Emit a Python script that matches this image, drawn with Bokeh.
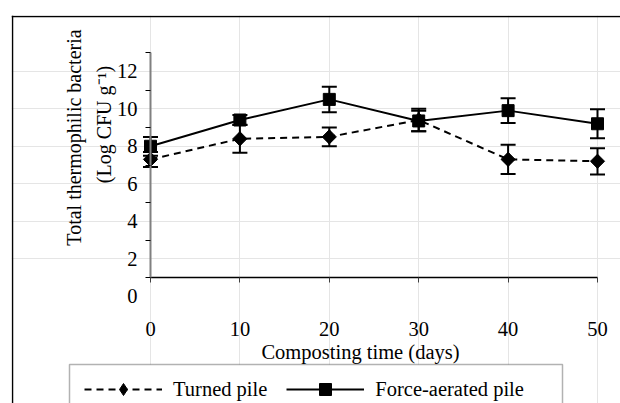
import numpy as np
from bokeh.plotting import figure
from bokeh.models import (ColumnDataSource, Whisker, TeeHead, FixedTicker, Label, Span,
                          PolyAnnotation, Legend, LegendItem, LinearAxis, Range1d)
from bokeh.core.properties import value
from bokeh.embed import file_html
from bokeh.resources import INLINE

# ---- data ----
days = [0, 10, 20, 30, 40, 50]
turned = [7.3, 8.4, 8.5, 9.4, 7.3, 7.2]
turned_err = [0.4, 0.75, 0.5, 0.6, 0.78, 0.7]
forced = [8.0, 9.4, 10.5, 9.35, 9.9, 9.2]
forced_err = [0.5, 0.27, 0.68, 0.55, 0.66, 0.77]
y_tick_marks = [1, 3, 5, 7, 9, 11, 13]
y_tick_labels = [0, 2, 4, 6, 8, 10, 12]
x_ticks = [0, 10, 20, 30, 40, 50]
y_title_1 = "Total thermophilic bacteria"
y_title_2 = "(Log CFU g\u207b\u00b9)"
x_title = "Composting time (days)"
series_names = ["Turned pile", "Force-aerated pile"]

FONT = "Liberation Serif"
FS = "20.5px"

# ---- layout: the plot frame fills the canvas; the chart area sits inside it ----
W, H = 620, 403
LEFT, TOP = 11, 15                 # frame insets (px)
AX_L, AX_R = 150.0, 597.0          # canvas px of x = 0 and x = 50
AX_T, AX_B = 52.0, 277.0           # canvas px of y = 13 and y = 1
ppx = (AX_R - AX_L) / 50.0
ppy = (AX_B - AX_T) / 12.0
x_start = (LEFT - AX_L) / ppx
x_end = 50 + (W - AX_R) / ppx
y_end = 13 + (AX_T - TOP) / ppy
y_start = 1 - (H - AX_B) / ppy


def dx(px):   # canvas x pixel -> data x (for text / frame placement)
    return (px - AX_L) / ppx


def dy(py):   # canvas y pixel -> data y (for text / frame placement)
    return 13 - (py - AX_T) / ppy


src_t = ColumnDataSource(dict(x=days, y=turned,
                              upper=[v + e for v, e in zip(turned, turned_err)],
                              lower=[v - e for v, e in zip(turned, turned_err)]))
src_f = ColumnDataSource(dict(x=days, y=forced,
                              upper=[v + e for v, e in zip(forced, forced_err)],
                              lower=[v - e for v, e in zip(forced, forced_err)]))

p = figure(width=W, height=H, output_backend="svg", toolbar_location=None,
           x_range=Range1d(x_start, x_end), y_range=Range1d(y_start, y_end),
           x_axis_location=None, y_axis_location=None,
           min_border_left=LEFT, min_border_bottom=0, min_border_top=TOP, min_border_right=0)
p.outline_line_color = None
p.background_fill_color = "white"
p.border_fill_color = "white"

# ---- real axes, pinned at the chart's origin ----
xax = LinearAxis(fixed_location=1, bounds=(0, 50), ticker=FixedTicker(ticks=x_ticks),
                 axis_line_color="black", axis_line_width=1.5,
                 major_tick_line_color="#404040", major_tick_in=5, major_tick_out=0,
                 minor_tick_line_color=None, major_label_text_font_size="1px",
                 major_label_text_color=None, major_label_standoff=0)
p.add_layout(xax, "above")
yax = LinearAxis(fixed_location=0, bounds=(1, 13), ticker=FixedTicker(ticks=y_tick_marks),
                 axis_line_color="#808080", axis_line_width=2,
                 major_tick_line_color="black", major_tick_in=0, major_tick_out=5,
                 minor_tick_line_color=None, major_label_text_font_size="1px",
                 major_label_text_color=None, major_label_standoff=0)
p.add_layout(yax, "left")

# ---- outer chart border (left and top edges; the rest lies off the page) ----
p.add_layout(Span(location=dx(12), dimension="height", line_color="black", line_width=1.5))
p.add_layout(Span(location=dy(16), dimension="width", line_color="black", line_width=1.5))

# ---- error bars ----
for src in (src_t, src_f):
    w = Whisker(base="x", upper="upper", lower="lower", source=src,
                line_color="black", line_width=2, level="underlay",
                upper_head=TeeHead(size=15, line_width=2, line_color="black"),
                lower_head=TeeHead(size=15, line_width=2, line_color="black"))
    p.add_layout(w)

l_t = p.line("x", "y", source=src_t, line_color="black", line_width=2, line_dash="7 5")
d_t = p.scatter("x", "y", source=src_t, marker="diamond", size=14,
                fill_color="black", line_color="black")
p.scatter("x", "y", source=src_t, marker="square", angle=np.pi / 4, size=10,
          fill_color="black", line_color="black")
l_f = p.line("x", "y", source=src_f, line_color="black", line_width=2)
m_f = p.scatter("x", "y", source=src_f, marker="square", size=12,
                fill_color="black", line_color="black")

# ---- tick labels ----
for v in y_tick_labels:
    p.add_layout(Label(x=dx(137), y=v, text=str(v), text_align="right", text_baseline="middle",
                       text_font=FONT, text_font_size=FS, text_color="black"))
xlab = ColumnDataSource(dict(x=x_ticks, y=[dy(328)] * len(x_ticks),
                             t=[str(v) for v in x_ticks]))
p.text("x", "y", text="t", source=xlab, text_align="center", text_baseline="middle",
       text_font=value(FONT), text_font_size=FS, text_color="black")

# ---- axis titles ----
p.add_layout(Label(x=dx(73), y=dy(137), text=y_title_1, angle=np.pi / 2, text_align="center",
                   text_baseline="middle", text_font=FONT, text_font_size="20px",
                   text_color="black"))
p.add_layout(Label(x=dx(103), y=dy(124), text=y_title_2, angle=np.pi / 2, text_align="center",
                   text_baseline="middle", text_font=FONT, text_font_size="20px",
                   text_color="black"))
p.add_layout(Label(x=dx(360), y=dy(351), text=x_title, text_align="center",
                   text_baseline="middle", text_font=FONT, text_font_size=FS, text_color="black"))

# ---- legend box (its bottom edge lies off the page) ----
p.add_layout(PolyAnnotation(xs=[dx(69), dx(69), dx(562), dx(562)],
                            ys=[dy(900), dy(364), dy(364), dy(900)],
                            fill_color="white", fill_alpha=1, line_color="black",
                            line_width=1.5))

legend = Legend(items=[LegendItem(label=series_names[0], renderers=[l_t, d_t]),
                       LegendItem(label=series_names[1], renderers=[l_f, m_f])],
                orientation="horizontal", location=(73, -1), margin=0,
                padding=9, spacing=19, glyph_width=78, glyph_height=30,
                label_standoff=11, label_text_font=FONT, label_text_font_size=FS,
                label_text_color="black",
                border_line_color=None, background_fill_alpha=0)
p.add_layout(legend)

open("out.html", "w").write(file_html(p, INLINE))
